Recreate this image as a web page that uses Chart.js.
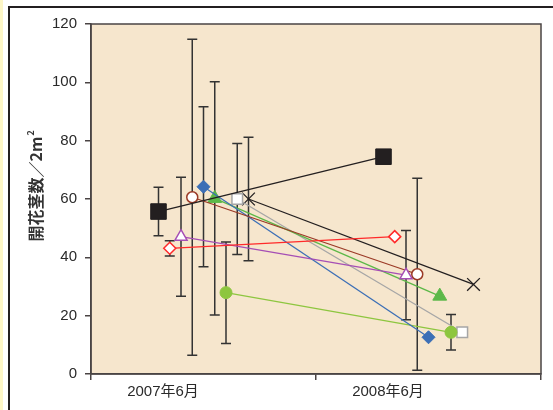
<!DOCTYPE html>
<html>
<head>
<meta charset="utf-8">
<script src="https://cdn.jsdelivr.net/npm/chart.js@4.4.1/dist/chart.umd.min.js"></script>
<style>
  html, body { margin: 0; padding: 0; background: #fff; }
  #c { display: block; }
</style>
</head>
<body>
<canvas id="c" width="553" height="410"></canvas>
<script>
// データ
const categories = ['2007年6月', '2008年6月']
const yTicks = [0, 20, 40, 60, 80, 100, 120]
const yTitle = '開花茎数／2m'
const yTitleSup = '2'

// 各系列: 2007年, 2008年の平均値と標準偏差
const mean2007 = [55.7, 43.1, 47.1, 60.6, 64.2, 60.2, 27.9, 60.0, 60.0]
const mean2008 = [74.5, 47.1, 33.9, 34.2, 12.6, 26.7, 14.3, 14.3, 30.7]
const sd2007   = [8.3, 2.6, 20.4, 54.2, 27.4, 40.0, 17.4, 19.0, 21.2]
const sd2008   = [0, 0, 15.3, 32.9, 0, 0, 6.1, 0, 0]
// カテゴリ内での系列のずれ
const seriesOffset = [-0.2, -0.15, -0.1, -0.05, 0, 0.05, 0.1, 0.15, 0.2]

// 見た目
const seriesStyle = [
  { line: '#231f20', fill: '#231f20', border: '#231f20', shape: 'rect',     r: 11,  bw: 1 },
  { line: '#ff2a2a', fill: '#ffffff', border: '#ff2a2a', shape: 'rectRot',  r: 6,   bw: 1.5 },
  { line: '#a54eb5', fill: '#ffffff', border: '#a54eb5', shape: 'triangle', r: 7,   bw: 1.5 },
  { line: '#9b3a26', fill: '#ffffff', border: '#9b3a26', shape: 'circle',   r: 5.5, bw: 1.5 },
  { line: '#3c6fb6', fill: '#3c6fb6', border: '#3c6fb6', shape: 'rectRot',  r: 6.5, bw: 1 },
  { line: '#5cb848', fill: '#5cb848', border: '#5cb848', shape: 'triangle', r: 8,   bw: 1 },
  { line: '#8dc63f', fill: '#8dc63f', border: '#8dc63f', shape: 'circle',   r: 6,   bw: 1 },
  { line: '#a6a6a6', fill: '#ffffff', border: '#a6a6a6', shape: 'rect',     r: 7.5, bw: 1.5 },
  { line: '#231f20', fill: '#231f20', border: '#231f20', shape: 'crossRot', r: 9,   bw: 1.3 },
]

const FONT = "'Liberation Sans', 'Noto Sans CJK JP', sans-serif"

const datasets = mean2007.map((v, i) => {
  const st = seriesStyle[i]
  return {
    data: [
      { x: 0 + seriesOffset[i], y: v, sd: sd2007[i] },
      { x: 1 + seriesOffset[i], y: mean2008[i], sd: sd2008[i] },
    ],
    showLine: true,
    borderColor: st.line,
    borderWidth: 1.3,
    pointStyle: st.shape,
    pointRadius: st.r,
    pointHoverRadius: st.r,
    pointBackgroundColor: st.fill,
    pointBorderColor: st.border,
    pointBorderWidth: st.bw,
  }
})

// 枠と背景
const frame = {
  id: 'frame',
  beforeDraw(chart) {
    const { ctx, chartArea: a } = chart
    ctx.save()
    ctx.fillStyle = '#ffffff'
    ctx.fillRect(0, 0, chart.width, chart.height)
    ctx.fillStyle = '#fdf6c6'
    ctx.fillRect(0, 0, 3, chart.height)
    ctx.fillStyle = '#231f20'
    ctx.fillRect(8, 6, 2, chart.height - 6)
    ctx.fillRect(8, 6, chart.width - 8, 2)
    ctx.fillStyle = '#f6e6cd'
    ctx.fillRect(a.left, a.top, a.right - a.left, a.bottom - a.top)
    ctx.restore()
  },
  beforeDatasetsDraw(chart) {
    const { ctx, chartArea: a, scales: { x, y } } = chart
    ctx.save()
    ctx.strokeStyle = '#4a4444'
    ctx.lineWidth = 1.5
    ctx.strokeRect(a.left, a.top, a.right - a.left, a.bottom - a.top)
    // 誤差棒
    ctx.strokeStyle = '#333'
    ctx.lineWidth = 1.5
    chart.data.datasets.forEach(ds => {
      ds.data.forEach(p => {
        if (!p.sd) return
        const px = x.getPixelForValue(p.x)
        const t = y.getPixelForValue(p.y + p.sd)
        const b = y.getPixelForValue(p.y - p.sd)
        ctx.beginPath()
        ctx.moveTo(px, t); ctx.lineTo(px, b)
        ctx.moveTo(px - 5, t); ctx.lineTo(px + 5, t)
        ctx.moveTo(px - 5, b); ctx.lineTo(px + 5, b)
        ctx.stroke()
      })
    })
    ctx.restore()
  },
  afterDraw(chart) {
    const { ctx } = chart
    ctx.save()
    ctx.translate(36, 186)
    ctx.rotate(-Math.PI / 2)
    ctx.fillStyle = '#333'
    ctx.font = "bold 16px 'Noto Sans CJK JP', sans-serif"
    ctx.textBaseline = 'middle'
    const w = ctx.measureText(yTitle).width
    ctx.textAlign = 'left'
    ctx.fillText(yTitle, -w / 2 - 3, 0)
    ctx.font = "bold 9px 'Noto Sans CJK JP', sans-serif"
    ctx.fillText(yTitleSup, w / 2 - 2, -5)
    ctx.restore()
  }
}

new Chart(document.getElementById('c'), {
  type: 'scatter',
  data: { datasets },
  plugins: [frame],
  options: {
    responsive: false,
    animation: false,
    layout: { padding: { left: 0, top: 24, right: 10, bottom: 0 } },
    plugins: { legend: { display: false }, tooltip: { enabled: false } },
    scales: {
      x: {
        type: 'linear',
        min: -0.5, max: 1.5,
        afterBuildTicks: s => { s.ticks = [{ value: -0.5 }, { value: 0.5 }, { value: 1.5 }] },
        afterFit: s => { s.height = 36 },
        border: { color: '#4a4444', width: 1.5 },
        grid: { drawOnChartArea: false, drawTicks: true, tickLength: 6, color: '#4a4444', lineWidth: 1.5 },
        ticks: {
          padding: 3,
          labelOffset: 72,
          maxRotation: 0,
          autoSkip: false,
          color: '#2a2a2a',
          font: { family: FONT, size: 15 },
          callback: (v) => categories[Math.round(v + 0.5)] || ''
        }
      },
      y: {
        min: 0, max: 120,
        afterBuildTicks: s => { s.ticks = yTicks.map(v => ({ value: v })) },
        afterFit: s => { s.width = 91 },
        border: { color: '#4a4444', width: 1.5 },
        grid: { drawOnChartArea: false, drawTicks: true, tickLength: 6, color: '#4a4444', lineWidth: 1.5 },
        ticks: { padding: 8, color: '#2a2a2a', font: { family: FONT, size: 15 } }
      }
    }
  }
})
</script>
</body>
</html>
